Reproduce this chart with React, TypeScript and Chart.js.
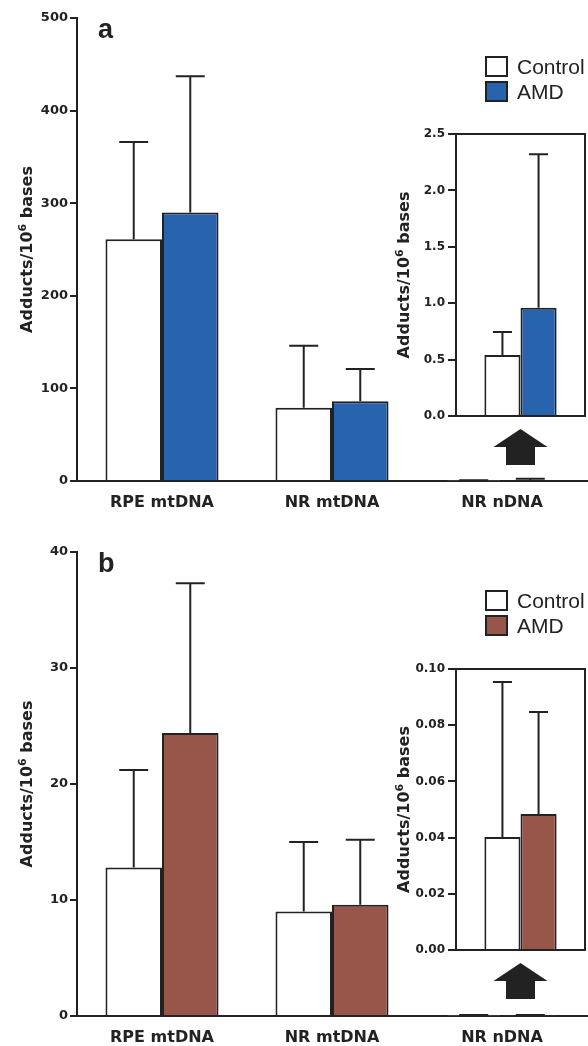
import React, { useEffect, useRef } from "react";
import { Chart, registerables } from "chart.js";

Chart.register(...registerables);

// ---------- data ----------
const categories = ["RPE mtDNA", "NR mtDNA", "NR nDNA"];
const insetCategory = ["NR nDNA"];
const seriesNames = ["Control", "AMD"];

// Panel a (adducts / 10^6 bases)
const aControl = [261, 79, 0.54];
const aAMD = [290, 86, 0.96];
const aControlErrTop = [366, 146, 0.745];
const aAMDErrTop = [437, 121, 2.32];
const aTicks = [0, 100, 200, 300, 400, 500];
const aInsetTicks = [0, 0.5, 1.0, 1.5, 2.0, 2.5];

// Panel b
const bControl = [12.8, 9.0, 0.0402];
const bAMD = [24.4, 9.6, 0.0484];
const bControlErrTop = [21.2, 15.0, 0.0954];
const bAMDErrTop = [37.3, 15.2, 0.0847];
const bTicks = [0, 10, 20, 30, 40];
const bInsetTicks = [0, 0.02, 0.04, 0.06, 0.08, 0.1];

const INK = "#222222";
const BLUE = "#2864ae";
const BROWN = "#98554a";
const FAM = '"DejaVu Sans", sans-serif';
const SANS = '"Liberation Sans", Arial, sans-serif';

function errorBarPlugin(cap: number) {
  return {
    id: "errorBars",
    afterDatasetsDraw(chart: any) {
      const { ctx } = chart;
      const y = chart.scales.y;
      chart.data.datasets.forEach((ds: any, i: number) => {
        const meta = chart.getDatasetMeta(i);
        const errs: number[] = ds.errTop;
        meta.data.forEach((bar: any, j: number) => {
          const top = y.getPixelForValue(errs[j]);
          const x = bar.x;
          ctx.save();
          ctx.strokeStyle = INK;
          ctx.lineWidth = 2;
          ctx.beginPath();
          ctx.moveTo(x, bar.y);
          ctx.lineTo(x, top);
          ctx.moveTo(x - cap / 2, top);
          ctx.lineTo(x + cap / 2, top);
          ctx.stroke();
          ctx.restore();
        });
      });
    },
  };
}

function drawYTitle(ctx: CanvasRenderingContext2D, baselineX: number, cy: number) {
  const big = `bold 16px ${FAM}`;
  const small = `bold 11px ${FAM}`;
  const parts = [
    { t: "Adducts/10", f: big, dy: 0 },
    { t: "6", f: small, dy: -6 },
    { t: " bases", f: big, dy: 0 },
  ];
  ctx.save();
  let total = 0;
  const widths = parts.map((p) => {
    ctx.font = p.f;
    const w = ctx.measureText(p.t).width;
    total += w;
    return w;
  });
  ctx.translate(baselineX, cy);
  ctx.rotate(-Math.PI / 2);
  ctx.fillStyle = INK;
  ctx.textBaseline = "alphabetic";
  ctx.textAlign = "left";
  let x = -total / 2;
  parts.forEach((p, i) => {
    ctx.font = p.f;
    ctx.fillText(p.t, x, p.dy);
    x += widths[i];
  });
  ctx.restore();
}

function mainDeco(letter: string, color: string) {
  return {
    id: "mainDeco",
    afterDraw(chart: any) {
      const { ctx, chartArea } = chart;
      const top = chartArea.top;
      ctx.save();
      // panel letter
      ctx.fillStyle = INK;
      ctx.font = `bold 27px ${SANS}`;
      ctx.textBaseline = "alphabetic";
      ctx.textAlign = "left";
      ctx.fillText(letter, 98, top + 20);
      // legend
      const fills = ["#ffffff", color];
      seriesNames.forEach((name, i) => {
        const by = top + 39 + i * 25;
        ctx.fillStyle = fills[i];
        ctx.fillRect(486, by, 21, 19);
        ctx.strokeStyle = INK;
        ctx.lineWidth = 2;
        ctx.strokeRect(486, by, 21, 19);
        ctx.fillStyle = INK;
        ctx.font = `21px ${SANS}`;
        ctx.fillText(name, 517, by + 17);
      });
      ctx.restore();
      drawYTitle(ctx, 32, (chartArea.top + chartArea.bottom) / 2);
    },
  };
}

const insetDeco = {
  id: "insetDeco",
  afterDraw(chart: any) {
    const { ctx, chartArea } = chart;
    const { left, right, top, bottom } = chartArea;
    ctx.save();
    ctx.strokeStyle = INK;
    ctx.lineWidth = 2;
    ctx.strokeRect(left, top, right - left, bottom - top);
    // arrow
    const cx = (left + right) / 2;
    ctx.fillStyle = INK;
    ctx.beginPath();
    ctx.moveTo(cx, bottom + 13);
    ctx.lineTo(cx + 27, bottom + 31);
    ctx.lineTo(cx + 14.5, bottom + 31);
    ctx.lineTo(cx + 14.5, bottom + 49);
    ctx.lineTo(cx - 14.5, bottom + 49);
    ctx.lineTo(cx - 14.5, bottom + 31);
    ctx.lineTo(cx - 27, bottom + 31);
    ctx.closePath();
    ctx.fill();
    ctx.restore();
    drawYTitle(ctx, 119, (top + bottom) / 2);
  },
};

type MainProps = {
  top: number;
  height: number;
  padTop: number;
  xAxisH: number;
  letter: string;
  color: string;
  control: number[];
  amd: number[];
  controlErr: number[];
  amdErr: number[];
  ticks: number[];
  decimals: number;
};

function MainChart(p: MainProps) {
  const ref = useRef<HTMLCanvasElement>(null);
  useEffect(() => {
    const chart = new Chart(ref.current as HTMLCanvasElement, {
      type: "bar",
      data: {
        labels: categories,
        datasets: [
          {
            label: seriesNames[0],
            data: p.control,
            backgroundColor: "#ffffff",
            borderColor: INK,
            borderWidth: 2,
            errTop: p.controlErr,
          } as any,
          {
            label: seriesNames[1],
            data: p.amd,
            backgroundColor: p.color,
            borderColor: INK,
            borderWidth: 2,
            errTop: p.amdErr,
          } as any,
        ],
      },
      options: {
        animation: false,
        responsive: false,
        maintainAspectRatio: false,
        layout: { padding: { left: 0, right: 1, top: p.padTop, bottom: 0 } },
        datasets: { bar: { categoryPercentage: 0.665, barPercentage: 1 } },
        plugins: { legend: { display: false }, tooltip: { enabled: false } },
        scales: {
          x: {
            grid: { display: false, drawTicks: false },
            border: { display: true, color: INK, width: 2 },
            ticks: { color: INK, padding: 12, font: { family: "DejaVu Sans", size: 16, weight: "bold" } },
            afterFit: (s: any) => {
              s.height = p.xAxisH;
            },
          },
          y: {
            min: 0,
            max: p.ticks[p.ticks.length - 1],
            grid: { display: true, drawOnChartArea: false, drawTicks: true, tickLength: 7, color: INK, lineWidth: 2 },
            border: { display: true, color: INK, width: 2 },
            ticks: {
              color: INK,
              padding: 2,
              font: { family: "DejaVu Sans", size: 13, weight: "bold" },
              callback: (v: any) => Number(v).toFixed(p.decimals),
            },
            afterBuildTicks: (s: any) => {
              s.ticks = p.ticks.map((v) => ({ value: v }));
            },
            afterFit: (s: any) => {
              s.width = 77;
            },
          },
        },
      } as any,
      plugins: [errorBarPlugin(29), mainDeco(p.letter, p.color)],
    });
    return () => chart.destroy();
  }, []);
  return (
    <canvas
      ref={ref}
      width={588}
      height={p.height}
      style={{ position: "absolute", left: 0, top: p.top, width: 588, height: p.height }}
    />
  );
}

type InsetProps = {
  top: number;
  height: number;
  color: string;
  control: number;
  amd: number;
  controlErr: number;
  amdErr: number;
  ticks: number[];
  decimals: number;
};

function InsetChart(p: InsetProps) {
  const ref = useRef<HTMLCanvasElement>(null);
  useEffect(() => {
    const chart = new Chart(ref.current as HTMLCanvasElement, {
      type: "bar",
      data: {
        labels: insetCategory,
        datasets: [
          {
            label: seriesNames[0],
            data: [p.control],
            backgroundColor: "#ffffff",
            borderColor: INK,
            borderWidth: 2,
            errTop: [p.controlErr],
          } as any,
          {
            label: seriesNames[1],
            data: [p.amd],
            backgroundColor: p.color,
            borderColor: INK,
            borderWidth: 2,
            errTop: [p.amdErr],
          } as any,
        ],
      },
      options: {
        animation: false,
        responsive: false,
        maintainAspectRatio: false,
        layout: { padding: { left: 0, right: 3, top: 24, bottom: 54 } },
        datasets: { bar: { categoryPercentage: 0.56, barPercentage: 1 } },
        plugins: { legend: { display: false }, tooltip: { enabled: false } },
        scales: {
          x: { display: false },
          y: {
            min: 0,
            max: p.ticks[p.ticks.length - 1],
            grid: { display: true, drawOnChartArea: false, drawTicks: true, tickLength: 8, color: INK, lineWidth: 2 },
            border: { display: true, color: INK, width: 2 },
            ticks: {
              color: INK,
              padding: 3,
              font: { family: "DejaVu Sans", size: 12, weight: "bold" },
              callback: (v: any) => Number(v).toFixed(p.decimals),
            },
            afterBuildTicks: (s: any) => {
              s.ticks = p.ticks.map((v) => ({ value: v }));
            },
            afterFit: (s: any) => {
              s.width = 166;
            },
          },
        },
      } as any,
      plugins: [errorBarPlugin(19), insetDeco],
    });
    return () => chart.destroy();
  }, []);
  return (
    <canvas
      ref={ref}
      width={298}
      height={p.height}
      style={{ position: "absolute", left: 290, top: p.top, width: 298, height: p.height }}
    />
  );
}

export default function App() {
  return (
    <div style={{ position: "absolute", left: 0, top: 0, width: 588, height: 1046, overflow: "hidden", background: "#fff" }}>
      <MainChart
        top={0}
        height={523}
        padTop={18}
        xAxisH={42}
        letter="a"
        color={BLUE}
        control={aControl}
        amd={aAMD}
        controlErr={aControlErrTop}
        amdErr={aAMDErrTop}
        ticks={aTicks}
        decimals={0}
      />
      <InsetChart
        top={110}
        height={360}
        color={BLUE}
        control={aControl[2]}
        amd={aAMD[2]}
        controlErr={aControlErrTop[2]}
        amdErr={aAMDErrTop[2]}
        ticks={aInsetTicks}
        decimals={1}
      />
      <MainChart
        top={530}
        height={516}
        padTop={22}
        xAxisH={30}
        letter="b"
        color={BROWN}
        control={bControl}
        amd={bAMD}
        controlErr={bControlErrTop}
        amdErr={bAMDErrTop}
        ticks={bTicks}
        decimals={0}
      />
      <InsetChart
        top={645}
        height={359}
        color={BROWN}
        control={bControl[2]}
        amd={bAMD[2]}
        controlErr={bControlErrTop[2]}
        amdErr={bAMDErrTop[2]}
        ticks={bInsetTicks}
        decimals={2}
      />
    </div>
  );
}
